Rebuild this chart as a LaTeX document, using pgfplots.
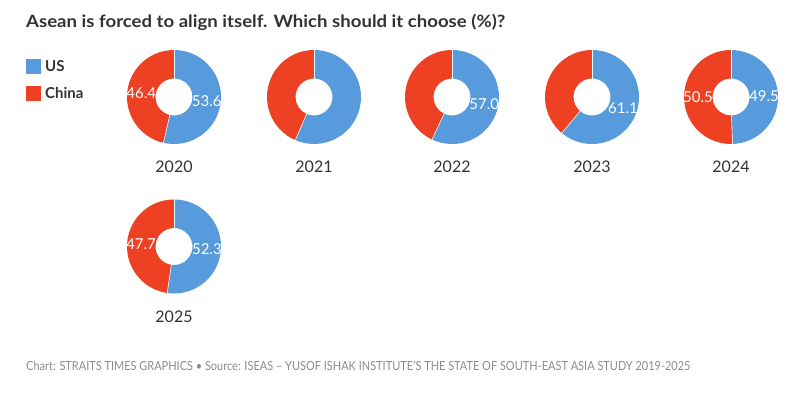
\documentclass[border=0pt]{standalone}
\usepackage{pgfplots}
\pgfplotsset{compat=1.18}
\usepackage{pgfplotstable}
\usepackage{fontspec}
\usepackage{graphicx}
\setmainfont{Lato}
\definecolor{usblue}{HTML}{589BDD}
\definecolor{cnred}{HTML}{EE4124}
\definecolor{txt}{HTML}{333333}
\definecolor{foot}{HTML}{8C8C8C}

\pgfplotstableread{
year us china cx cy lus lcn
2020 53.6 46.4 174 299 1 1
2021 56.5 43.5 314 299 0 0
2022 57.0 43.0 452 299 1 0
2023 61.1 38.9 592 299 1 0
2024 49.5 50.5 731 299 1 1
2025 52.3 47.7 174 149.5 1 1
}\donuts

\newcommand\donut[7]{%
  \begin{scope}[shift={(axis cs:#4,#5)}]
    \fill[usblue] (canvas polar cs:angle=90,radius=47pt)
      arc[start angle=90,end angle={90-3.6*#2},radius=47pt]
      -- (canvas polar cs:angle={90-3.6*#2},radius=18.5pt)
      arc[start angle={90-3.6*#2},end angle=90,radius=18.5pt] -- cycle;
    \fill[cnred] (canvas polar cs:angle={90-3.6*#2},radius=47pt)
      arc[start angle={90-3.6*#2},end angle=-270,radius=47pt]
      -- (canvas polar cs:angle=-270,radius=18.5pt)
      arc[start angle=-270,end angle={90-3.6*#2},radius=18.5pt] -- cycle;
    \draw[white,line width=0.6pt] (canvas polar cs:angle=90,radius=18pt) -- (canvas polar cs:angle=90,radius=47.5pt);
    \draw[white,line width=0.6pt] (canvas polar cs:angle={90-3.6*#2},radius=18pt) -- (canvas polar cs:angle={90-3.6*#2},radius=47.5pt);
    \ifnum#6=1
      \node[white,font=\fontsize{15}{15}\selectfont,inner sep=0pt] at (canvas polar cs:angle={90-1.8*#2},radius=33pt) {#2};
    \fi
    \ifnum#7=1
      \node[white,font=\fontsize{15}{15}\selectfont,inner sep=0pt] at (canvas polar cs:angle={90-3.6*#2-1.8*#3},radius=33pt) {#3};
    \fi
    \node[txt,anchor=base,inner sep=0pt,font=\fontsize{16}{16}\selectfont] at (canvas polar cs:angle=-90,radius=76pt) {#1};
  \end{scope}}

\begin{document}
\begin{tikzpicture}
\begin{axis}[
  x=1pt, y=1pt,
  xmin=0, xmax=800, ymin=0, ymax=396,
  hide axis, clip=false,
]
\fill[white] (axis cs:0,0) rectangle (axis cs:800,396);
\pgfplotsinvokeforeach{0,...,5}{%
  \pgfplotstablegetelem{#1}{year}\of\donuts \let\dyear\pgfplotsretval
  \pgfplotstablegetelem{#1}{us}\of\donuts \let\dus\pgfplotsretval
  \pgfplotstablegetelem{#1}{china}\of\donuts \let\dcn\pgfplotsretval
  \pgfplotstablegetelem{#1}{cx}\of\donuts \let\dcx\pgfplotsretval
  \pgfplotstablegetelem{#1}{cy}\of\donuts \let\dcy\pgfplotsretval
  \pgfplotstablegetelem{#1}{lus}\of\donuts \let\dlus\pgfplotsretval
  \pgfplotstablegetelem{#1}{lcn}\of\donuts \let\dlcn\pgfplotsretval
  \edef\docmd{\noexpand\donut{\dyear}{\dus}{\dcn}{\dcx}{\dcy}{\dlus}{\dlcn}}%
  \docmd
}
% title
\node[txt,anchor=base west,inner sep=0pt] at (axis cs:26,368)
  {\resizebox{479pt}{\height}{\fontsize{17}{17}\selectfont\bfseries Asean is forced to align itself. Which should it choose (\%)?}};
% legend
\fill[usblue] (axis cs:26,322) rectangle (axis cs:41,337);
\fill[cnred] (axis cs:26,295) rectangle (axis cs:41,310);
\node[txt,anchor=base west,inner sep=0pt,font=\fontsize{15}{15}\selectfont\bfseries] at (axis cs:45,324) {US};
\node[txt,anchor=base west,inner sep=0pt,font=\fontsize{15}{15}\selectfont\bfseries] at (axis cs:45,297) {China};
% footer
\node[foot,anchor=base west,inner sep=0pt] at (axis cs:26,25)
  {\resizebox{664pt}{\height}{\fontsize{12.5}{12.5}\selectfont Chart: STRAITS TIMES GRAPHICS \textbullet{} Source: ISEAS -- YUSOF ISHAK INSTITUTE'S THE STATE OF SOUTH-EAST ASIA STUDY 2019-2025}};
\end{axis}
\end{tikzpicture}
\end{document}
